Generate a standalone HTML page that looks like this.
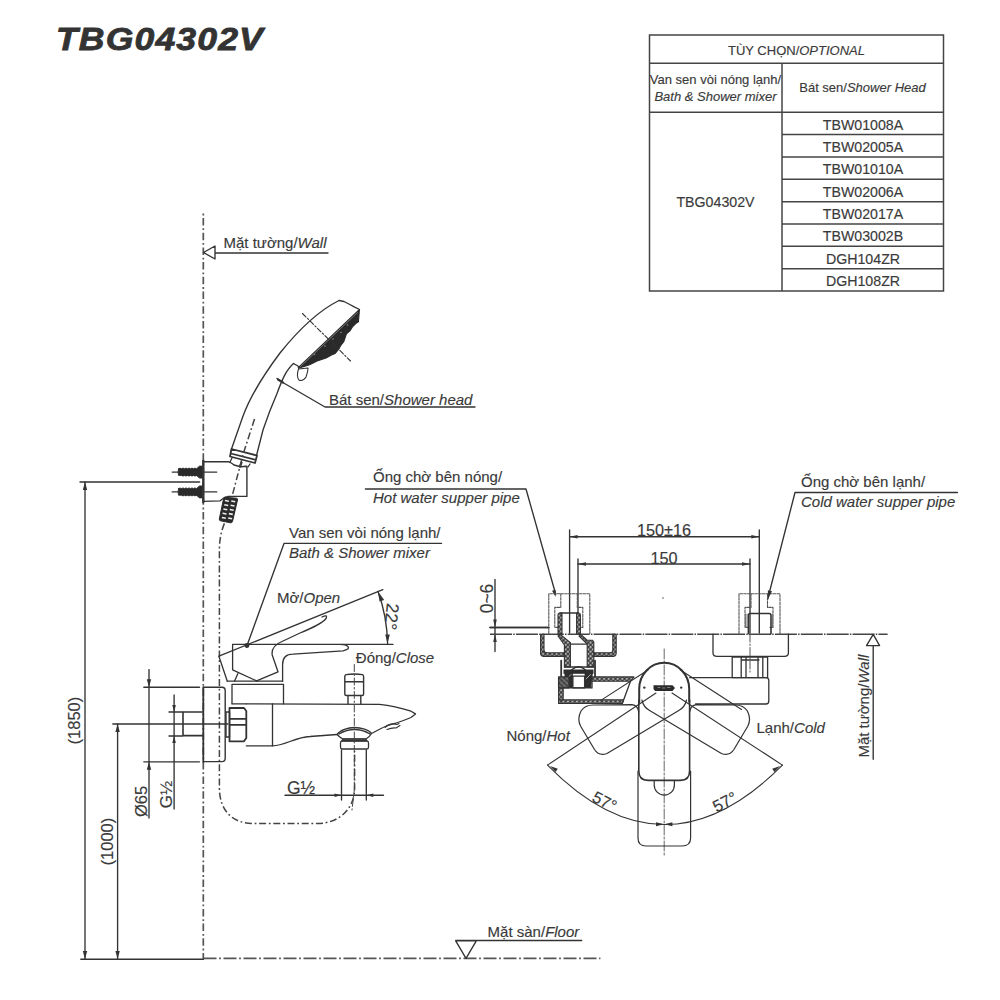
<!DOCTYPE html>
<html><head><meta charset="utf-8"><style>
html,body{margin:0;padding:0;background:#fff;}
svg{display:block;}
text{font-family:"Liberation Sans",sans-serif;fill:#3a3a3a;stroke:#3a3a3a;stroke-width:0.15px;}
.it{font-style:italic;}
</style></head><body>
<svg width="1000" height="1000" viewBox="0 0 1000 1000">
<rect width="1000" height="1000" fill="#fff"/>

<text x="56" y="50" font-size="31" font-weight="bold" font-style="italic" textLength="208" lengthAdjust="spacingAndGlyphs" style="fill:#333;stroke:#333;stroke-width:0.8;letter-spacing:1px">TBG04302V</text>
<g stroke="#444" stroke-width="1.5" fill="none">
<rect x="649.5" y="35" width="294" height="256"/>
<line x1="649.5" y1="63.3" x2="943.5" y2="63.3"/>
<line x1="649.5" y1="112.3" x2="943.5" y2="112.3"/>
<line x1="782" y1="63.3" x2="782" y2="291"/>
<line x1="782" y1="134.6" x2="943.5" y2="134.6"/>
<line x1="782" y1="157.0" x2="943.5" y2="157.0"/>
<line x1="782" y1="179.3" x2="943.5" y2="179.3"/>
<line x1="782" y1="201.7" x2="943.5" y2="201.7"/>
<line x1="782" y1="224.0" x2="943.5" y2="224.0"/>
<line x1="782" y1="246.3" x2="943.5" y2="246.3"/>
<line x1="782" y1="268.7" x2="943.5" y2="268.7"/>
</g>
<text x="796.5" y="54.6" font-size="13" text-anchor="middle">TÙY CHỌN/<tspan class="it">OPTIONAL</tspan></text>
<text x="715.5" y="84.3" font-size="13" text-anchor="middle">Van sen vòi nóng lạnh/</text>
<text x="715.5" y="100.8" font-size="13" text-anchor="middle" class="it">Bath &amp; Shower mixer</text>
<text x="862.5" y="92" font-size="13" text-anchor="middle">Bát sen/<tspan class="it">Shower Head</tspan></text>
<text x="863" y="129.5" font-size="14.2" text-anchor="middle">TBW01008A</text>
<text x="863" y="151.8" font-size="14.2" text-anchor="middle">TBW02005A</text>
<text x="863" y="174.2" font-size="14.2" text-anchor="middle">TBW01010A</text>
<text x="863" y="196.5" font-size="14.2" text-anchor="middle">TBW02006A</text>
<text x="863" y="218.9" font-size="14.2" text-anchor="middle">TBW02017A</text>
<text x="863" y="241.2" font-size="14.2" text-anchor="middle">TBW03002B</text>
<text x="863" y="263.5" font-size="14.2" text-anchor="middle">DGH104ZR</text>
<text x="863" y="285.9" font-size="14.2" text-anchor="middle">DGH108ZR</text>
<text x="715.5" y="206.5" font-size="14.2" text-anchor="middle">TBG04302V</text>
<g stroke="#333" stroke-width="1.35" fill="none" stroke-linejoin="round" stroke-linecap="round">
<line x1="203.3" y1="211" x2="203.3" y2="959" stroke-dasharray="7.5 2.8 1.8 2.6" stroke-linecap="butt" stroke-dashoffset="-7" stroke="#555" stroke-width="1.7"/>
<path d="M203.5,252.5 L215,246 L215,259 Z M215,253 L328,253"/>
<path d="M339,300.5 C318,311 296,333 280,353 C262,377 248,402 242.5,417.5 L231.5,449"/>
<path d="M339,300.5 L344,301.5 Q349,304 353.7,306.7 L359.5,309.5"/>
<path d="M293.5,363.5 C286,370 282,380 277,393.5 C272,405 267,418 263,430 L256.5,455.5"/>
<path d="M293.5,363.5 L298,366 L299,369"/>
<path fill="#2a2a2a" stroke="#2a2a2a" stroke-width="1.1" d="M359.5,309.5 L298.5,367.3 L300.0,367.8 L309.6,364.7 L317.1,360.9 L326.1,357.9 L331.4,354.9 L335.2,353.4 L338.9,348.9 L340.4,345.9 L343.9,341.4 L346.4,333.9 L349.9,330.9 L352.4,326.9 L355.9,323.4 L358.4,321.9 L359.3,311.3 Z"/>
<path stroke="#999" stroke-width="0.7" d="M357.5,312.5 L300.5,366.5"/>
<circle cx="347.5" cy="325" r="0.8" fill="#888" stroke="none"/>
<circle cx="341" cy="332.5" r="0.8" fill="#888" stroke="none"/>
<circle cx="333" cy="339" r="0.8" fill="#888" stroke="none"/>
<circle cx="325" cy="346" r="0.8" fill="#888" stroke="none"/>
<circle cx="314.5" cy="354.5" r="0.8" fill="#888" stroke="none"/>
<path fill="#fff" stroke-width="1.1" d="M298.5,369 C297,373 297,378 299,380 C301,381 304,380 306,377 C307,374 308,371 308,368 Z"/>
<line x1="302.5" y1="313.5" x2="350.5" y2="361" stroke-dasharray="5 2 1.5 2" stroke-width="1.1"/>
<path d="M277,378.5 L282,382 L325,407 L475,407"/>
<path stroke-width="2.2" d="M278,379.5 L283,382.5"/>
<path stroke-width="1.8" d="M231.5,449 L257,455.5 L255,463 L230,456.5 Z M230.8,453.5 L256,460"/>
<path stroke-width="1.4" d="M203.5,461.8 L228.9,461.8 Q232,463 234,465 L240.6,466.7 L246.9,466.3 L246.9,496.4 L228,496.4 Q224,497 219.9,500.9 L203.5,501.4"/>
<path stroke-width="1.3" d="M232,458 L230,462 M250,464 L248,467"/>
<path stroke-width="2.4" d="M203.3,461 L203.3,502"/>
<path stroke-width="2.2" d="M240,466.7 L241.5,462.5"/>
<path d="M204.6,472.1 L216.75,472.1 M204.6,491.9 L216.75,491.9"/>
<path fill="#2a2a2a" stroke="#2a2a2a" stroke-width="0.8" d="M178.5,468.8 Q180.0,467.5 181.5,468.70000000000005 Q183.0,467.5 184.5,468.70000000000005 Q186.0,467.5 187.5,468.70000000000005 Q189.0,467.5 190.5,468.70000000000005 Q192.0,467.5 193.5,468.70000000000005 Q195.0,467.5 196.5,468.70000000000005 L196.5,468.70000000000005 L199.5,466.1 L202,466.1 L202,478.1 L199.5,478.1 L196.5,475.5 Q198.0,476.70000000000005 196.5,475.5 Q195.0,476.70000000000005 193.5,475.5 Q192.0,476.70000000000005 190.5,475.5 Q189.0,476.70000000000005 187.5,475.5 Q186.0,476.70000000000005 184.5,475.5 Q183.0,476.70000000000005 181.5,475.5 L178.5,475.40000000000003 Q177.5,472.1 178.5,468.8 Z"/>
<line x1="172.2" y1="472.1" x2="178.5" y2="472.1"/>
<path fill="#2a2a2a" stroke="#2a2a2a" stroke-width="0.8" d="M178.5,488.59999999999997 Q180.0,487.29999999999995 181.5,488.5 Q183.0,487.29999999999995 184.5,488.5 Q186.0,487.29999999999995 187.5,488.5 Q189.0,487.29999999999995 190.5,488.5 Q192.0,487.29999999999995 193.5,488.5 Q195.0,487.29999999999995 196.5,488.5 L196.5,488.5 L199.5,485.9 L202,485.9 L202,497.9 L199.5,497.9 L196.5,495.29999999999995 Q198.0,496.5 196.5,495.29999999999995 Q195.0,496.5 193.5,495.29999999999995 Q192.0,496.5 190.5,495.29999999999995 Q189.0,496.5 187.5,495.29999999999995 Q186.0,496.5 184.5,495.29999999999995 Q183.0,496.5 181.5,495.29999999999995 L178.5,495.2 Q177.5,491.9 178.5,488.59999999999997 Z"/>
<line x1="172.2" y1="491.9" x2="178.5" y2="491.9"/>
<line x1="80" y1="482" x2="199.6" y2="482"/>
<path fill="#2a2a2a" stroke="#2a2a2a" stroke-width="1" d="M225,497.3 L236.5,498.2 Q238,498.5 237.5,500 L232.5,521.5 Q232,523 230.5,522.8 L220.5,520.8 Q219,520.5 219.3,519 L223.5,499 Q224,497.2 225,497.3 Z"/>
<rect x="224.9" y="500.1" width="4" height="1.6" fill="#eee" stroke="none" transform="rotate(11 226.9 501.1)"/>
<rect x="231.2" y="500.5" width="4" height="1.6" fill="#eee" stroke="none" transform="rotate(11 233.2 501.5)"/>
<rect x="224.2" y="504.4" width="4" height="1.6" fill="#eee" stroke="none" transform="rotate(11 226.2 505.4)"/>
<rect x="230.5" y="504.8" width="4" height="1.6" fill="#eee" stroke="none" transform="rotate(11 232.5 505.8)"/>
<rect x="223.3" y="508.6" width="4" height="1.6" fill="#eee" stroke="none" transform="rotate(11 225.3 509.6)"/>
<rect x="229.7" y="509.0" width="4" height="1.6" fill="#eee" stroke="none" transform="rotate(11 231.7 510.0)"/>
<rect x="222.5" y="512.8" width="4" height="1.6" fill="#eee" stroke="none" transform="rotate(11 224.5 513.8)"/>
<rect x="228.8" y="513.2" width="4" height="1.6" fill="#eee" stroke="none" transform="rotate(11 230.8 514.2)"/>
<rect x="221.8" y="517.1" width="4" height="1.6" fill="#eee" stroke="none" transform="rotate(11 223.8 518.1)"/>
<rect x="228.1" y="517.5" width="4" height="1.6" fill="#eee" stroke="none" transform="rotate(11 230.1 518.5)"/>
<path stroke="#444" stroke-width="1.5" stroke-dasharray="7 2.7 1.8 2.7" stroke-linecap="butt" d="M254.5,419 L243.5,453 L240.6,464 L232.5,494.6"/>
<path stroke="#444" stroke-width="1.5" stroke-dasharray="7 2.7 1.8 2.7" stroke-linecap="butt" d="M224.4,523.4 C221,532 219.4,540 219.4,550 L219.4,788 C219.4,810 232,823.5 253,823.5 L317,823.5 C340,823.5 354.6,808 354.6,788 L354.6,751"/>
<line x1="85" y1="482" x2="85" y2="959"/>
<path fill="#333" stroke="none" d="M85,482 L82.8,490 L87.2,490 Z"/>
<path fill="#333" stroke="none" d="M85,959 L82.8,951 L87.2,951 Z"/>
<line x1="117.6" y1="724" x2="117.6" y2="959"/>
<path fill="#333" stroke="none" d="M117.6,724 L115.39999999999999,732 L119.8,732 Z"/>
<path fill="#333" stroke="none" d="M117.6,959 L115.39999999999999,951 L119.8,951 Z"/>
<line x1="112.8" y1="724" x2="228" y2="724"/>
<line x1="149" y1="669.6" x2="149" y2="818"/>
<path fill="#333" stroke="none" d="M149,687.2 L146.8,679.2 L151.2,679.2 Z"/>
<path fill="#333" stroke="none" d="M149,761.8 L146.8,769.8 L151.2,769.8 Z"/>
<line x1="143.8" y1="687.2" x2="199.5" y2="687.2"/>
<line x1="143.8" y1="761.8" x2="199.5" y2="761.8"/>
<line x1="174.1" y1="695" x2="174.1" y2="809"/>
<path fill="#333" stroke="none" d="M174.1,712 L172.29999999999998,705 L175.9,705 Z"/>
<path fill="#333" stroke="none" d="M174.1,736 L172.29999999999998,743 L175.9,743 Z"/>
<line x1="169" y1="712" x2="182.5" y2="712"/>
<line x1="169" y1="736" x2="182.5" y2="736"/>
<line x1="80.8" y1="959.2" x2="203.5" y2="959.2"/>
<line x1="203.5" y1="958.4" x2="600.4" y2="958.4" stroke-dasharray="13 2.6 1.8 2.6" stroke-linecap="butt" stroke="#555" stroke-width="1.6"/>
<path d="M455.7,940.8 L476.3,940.8 L466,958.3 Z M455.7,940.5 L581.7,940.5"/>
<path stroke-width="1.4" d="M203.5,687.2 L222,687.2 Q225.2,687.2 225.2,690.5 L225.2,758.3 Q225.2,761.6 222,761.6 L203.5,761.6"/>
<path stroke-width="1.8" stroke-linecap="butt" d="M203.3,686.5 L203.3,762.5"/>
<path stroke-width="1.6" d="M202.5,712 L183,712 L183,735.6 L202.5,735.6"/>
<path stroke-width="1.8" d="M229.5,708 L244,708 L246.3,711 L246.3,738 L244,741.3 L229.5,741.3 Z M229.5,718.8 L246.3,718.8 M229.5,724.8 L246.3,724.8"/>
<path d="M226,712 L229.5,712 L229.5,737 L226,737 Z"/>
<path stroke-width="1.3" d="M246.3,703.8 L379.5,704.3 C392,705.5 403,708.5 411,711.2 L415.5,713.9 L411,717.5 C405,720 400,722 393,723.8 C388,725 384,726.5 380,729 L372.5,733"/>
<path stroke-width="1.3" d="M232,703.8 L246.3,703.8 M246.3,745.8 L272.5,745.8 C285,745.8 295,737 310,736.5 L337,734.5"/>
<path stroke-width="1.3" d="M272.5,703.8 L272.5,745.8"/>
<path stroke-width="1.1" d="M385,727.5 Q390,722.5 397,724.5 L399,723.5 M387,729.5 Q392,727.5 396,728 L400,725.5"/>
<path stroke-width="1.3" d="M337,734.5 C340,730 348,727.5 354.5,727.5 C361,727.5 369,730 371.5,733.5 C370,736 368,738 366,739 L343,739 C341,738 339,736.5 337,734.5 Z"/>
<path stroke-width="1.3" d="M339,734 C344,731 350,729.5 354.5,729.5 C359,729.5 365,731 370,734"/>
<path fill="#555" stroke-width="1" d="M343,739 L366,739 L367,741 L342,741 Z"/>
<path stroke-width="1.3" d="M342,741 L367,741 Q368.5,741 368.5,743 L368.5,747 Q368.5,749 367,749 L342,749 Q340.5,749 340.5,747 L340.5,743 Q340.5,741 342,741 Z"/>
<path d="M341.5,750 L341.5,800 M366.3,750 L366.3,800"/>
<line x1="285" y1="795.2" x2="383.5" y2="795.2"/>
<path fill="#333" stroke="none" d="M341.5,795.2 L334.5,793.4000000000001 L334.5,797.0 Z"/>
<path fill="#333" stroke="none" d="M366.3,795.2 L373.3,793.4000000000001 L373.3,797.0 Z"/>
<path stroke-width="1.4" d="M346,674.6 Q354.3,673.4 362.5,674.6 Q363.6,675 363.6,676.5 L363.6,694 Q363.6,695.5 362,695.5 L346.4,695.5 Q344.8,695.5 344.8,694 L344.8,676.5 Q344.8,675 346,674.6 Z M344.8,681.8 L363.6,681.8 M348,695.5 L348,703.8 M360.8,695.5 L360.8,703.8"/>
<path stroke="#444" stroke-width="1" stroke-dasharray="7 2.5 1.5 2.5" d="M354.3,664.5 L354.3,790 L352,810"/>
<path stroke-width="1.3" d="M227.3,681.2 L282.6,681.2 M232,684.3 L283.5,684.3 L283.5,703.8 M232,684.3 L232,703.8"/>
<path stroke-width="1.3" d="M232.6,644.4 L393,644.4 M232.6,644.4 L232.6,669.8 L256.6,680.9 M282.6,681.2 L282.6,664.6 Q282.6,654.2 293,654.2 L343,650.8 Q350,649.5 348,646.6 Q346.5,644.6 340,644.4"/>
<path stroke-width="1.3" d="M218.9,656.2 L382.8,589.6 M218.9,656.2 L227.3,681.2 M322,617 Q328,614 326,618.5 Q322,624 300,633 L282,641.5 Q271,646 272.2,655 L278,671.8 L256.6,680.9 M237.8,673.7 L234.5,681.2"/>
<path d="M441.5,543.4 L284,543.4 L246.5,647"/>
<circle cx="247" cy="645.5" r="1.8" fill="#333"/>
<path d="M378,591.4 Q387,616 387.6,643.6"/>
<path fill="#333" stroke="none" d="M378,591.4 L384.2,600 L379.5,601.5 Z M387.6,643.6 L385.2,634.5 L389.8,634.5 Z"/>
<path d="M365.4,489 L526,489 L555.7,594.2"/>
<path fill="#333" stroke="none" transform="rotate(-16 555.7 597)" d="M555.7,597 L553.9000000000001,590 L557.5,590 Z"/>
<path d="M569.6,530 L569.6,633 M759.3,530 L759.3,633 M578,558.8 L578,633 M750,558.8 L750,633"/>
<path d="M569.6,536.7 L759.3,536.7 M578,564 L750,564"/>
<path fill="#333" stroke="none" d="M569.6,536.7 L577.6,534.9000000000001 L577.6,538.5 Z"/>
<path fill="#333" stroke="none" d="M759.3,536.7 L751.3,534.9000000000001 L751.3,538.5 Z"/>
<path fill="#333" stroke="none" d="M578,564 L586,562.2 L586,565.8 Z"/>
<path fill="#333" stroke="none" d="M750,564 L742,562.2 L742,565.8 Z"/>
<circle cx="663" cy="598" r="0.8" fill="#555" stroke="none"/>
<path d="M495,579.5 L495,651.5 M490,627.5 L549,627.5"/>
<path fill="#333" stroke="none" d="M495,627.5 L493.2,619.5 L496.8,619.5 Z"/>
<path fill="#333" stroke="none" d="M495,634 L493.2,642 L496.8,642 Z"/>
<line x1="490" y1="634.2" x2="887.6" y2="634.2" stroke-dasharray="22 1.2 1.5 1.2" stroke-linecap="butt" stroke="#444" stroke-width="1.6"/>
<path d="M957.4,492.5 L795,492.5 L767.7,599"/>
<path stroke="#555" stroke-width="1.1" stroke-dasharray="2.5 1.2" d="M548.8,633.4 L548.8,593.8 L589.8,593.8 L589.8,633.4 M560.8,593.8 L560.8,607.4 L554.8,607.4 L554.8,627.4 L558.3,627.4 M577.3,593.8 L577.3,607.4 L582.8,607.4 L582.8,627.4 L579.8,627.4"/>
<path stroke="#555" stroke-width="1.1" stroke-dasharray="2.5 1.2" d="M739.0,633.4 L739.0,593.8 L780.0,593.8 L780.0,633.4 M751.0,593.8 L751.0,607.4 L745.0,607.4 L745.0,627.4 L748.5,627.4 M767.5,593.8 L767.5,607.4 L773.0,607.4 L773.0,627.4 L770.0,627.4"/>
<line x1="490" y1="627.5" x2="548.6" y2="627.5"/>
<path stroke-width="1.6" d="M748.4,633.8 L748.4,615.5 Q748.4,613.5 750.4,613.5 L769,613.5 Q771,613.5 771,615.5 L771,633.8"/>
<path stroke="#777" stroke-width="1" d="M745.5,614 L745.5,627 M747,614 L747,627 M772.5,614 L772.5,627"/>
<path fill="#333" stroke="none" transform="rotate(14 767.7 599.8)" d="M767.7,599.8 L765.6,590.5 L769.8,590.5 Z"/>
<path d="M873.2,634.4 L866.5,645.6 L879.6,645.6 Z M873.2,645.6 L873.2,759.2"/>
<path stroke-width="1.3" d="M713,634.2 L713,653 Q713,656.4 717,656.4 L784.5,656.4 Q788.4,656.4 788.4,653 L788.4,634.2"/>
<path stroke-width="1.3" d="M732.2,657 L767.6,657 L767.6,677.6 L732.2,677.6 Z M741.2,657 L741.2,677.6 M746,657 L746,677.6 M758,657 L758,677.6 M762.8,657 L762.8,677.6 M741,660 L759,660"/>
<path stroke="#555" stroke-width="1" stroke-dasharray="8 2 1.5 2" d="M750,634 L750,672"/>
<defs><pattern id="hat" patternUnits="userSpaceOnUse" width="3.2" height="3.2" patternTransform="rotate(45)"><rect width="3.2" height="3.2" fill="#fff"/><line x1="0" y1="1.6" x2="3.2" y2="1.6" stroke="#666" stroke-width="0.9"/></pattern><pattern id="hat2" patternUnits="userSpaceOnUse" width="3.5" height="3.5" patternTransform="rotate(-45)"><rect width="3.5" height="3.5" fill="#fff"/><line x1="0" y1="1.75" x2="3.5" y2="1.75" stroke="#444" stroke-width="1.2"/></pattern></defs>
<path fill="url(#hat)" stroke-width="1.1" d="M540.6,634.2 L540.6,653 Q540.6,656.4 544,656.4 L564,656.4 L564,652.8 L547,652.8 Q544,652.8 544,650 L544,634.2 Z"/>
<path fill="url(#hat)" stroke-width="1.1" d="M616.2,634.2 L616.2,653 Q616.2,656.4 612.8,656.4 L594,656.4 L594,652.8 L610,652.8 Q612.8,652.8 612.8,650 L612.8,634.2 Z"/>
<path fill="url(#hat)" stroke-width="1.1" d="M560,634.2 L570.4,642.6 L570.4,667 L564.4,667 L564.4,645 L558,636 Z"/>
<path fill="url(#hat)" stroke-width="1.1" d="M580.4,634.2 L587.2,640.2 L592.4,640.2 L593.8,642 L593.8,667 L587.2,667 L587.2,644 L579,636 Z"/>
<path stroke-width="1.3" d="M570.4,644.2 L587.2,644.2"/>
<path fill="url(#hat)" stroke-width="1.1" d="M558,633.8 L558,615 Q558,613 560,613 L562,613 L562,633.8 Z"/>
<path fill="url(#hat)" stroke-width="1.1" d="M580.4,633.8 L580.4,615 Q580.4,613 578.4,613 L576.6,613 L576.6,633.8 Z"/>
<path stroke-width="1.4" d="M560,613 L578.4,613"/>
<path stroke-width="1.8" d="M561.2,660.6 L561.2,677 M595,660.6 L595,677"/>
<path stroke-width="1.3" d="M564.4,667 L593.8,667"/>
<path stroke-width="1.5" d="M571.5,670 Q578.5,663.5 585.5,670"/>
<path fill="#2e2e2e" stroke="none" d="M563.5,669.5 L593.5,669.5 L593.5,673.8 L563.5,673.8 Z"/>
<path fill="#2e2e2e" stroke="none" d="M564.5,672 L572.9,672 L572.9,688 L566.5,688 L564.5,680 Z M584.6,672 L593,672 L592,680 L591,688 L584.6,688 Z"/>
<path stroke="#aaa" stroke-width="1" d="M566.5,679 L571,674.5 M586,679 L590.5,674.5"/>
<path stroke-width="1.3" d="M572.9,676.2 L584.6,676.2 L584.6,687.9 L572.9,687.9 Z"/>
<path fill="url(#hat)" stroke-width="1.1" d="M592,676.9 L634,676.9 L630.5,681.2 L592,681.2 Z"/>
<path fill="url(#hat)" stroke-width="1.1" d="M558.6,699.8 L623.5,699.8 L622.3,703.5 L558.6,703.5 Z"/>
<path fill="url(#hat)" stroke-width="1.1" d="M558.6,687.9 L563.2,687.9 L563.2,699.8 L558.6,699.8 Z"/>
<path fill="url(#hat2)" stroke-width="1.3" d="M558.6,676.9 L569,676.9 L569,687.9 L558.6,687.9 Z"/>
<path stroke-width="1.3" d="M630.5,681.2 L622.3,703.5 M563.2,687.9 L592,687.9 M592,681.2 L592,688"/>
<path stroke="#555" stroke-width="0.9" stroke-dasharray="10 2 2 2" d="M664.2,649 L664.2,857"/>
<path stroke-width="2" d="M639.2,702 L639.2,689 A25,26.2 0 0 1 689.2,689 L689.2,702"/>
<path stroke-width="1.6" d="M638.8,700 L638.8,771 Q638.8,780.4 648,780.4 L680.4,780.4 Q689.6,780.4 689.6,771 L689.6,700"/>
<path stroke-width="1.2" d="M638,771 L638,838 Q638,846 646,846 L682,846 Q690.6,846 690.6,838 L690.6,771"/>
<path stroke-width="1.2" d="M654.2,781 L654.2,785 A10.1,10.1 0 0 0 674.4,785 L674.4,781"/>
<path stroke-width="1.2" d="M686.5,700 Q685,707 678.8,710.5 L607,753.5 Q599,756.5 594.5,749.5 L580.5,726 Q577,719 581,711 Q585,705 593,705 L632,704.6 Q638,705.5 638.8,712"/>
<path stroke-width="1.2" transform="translate(1328.4,0) scale(-1,1)" d="M686.5,700 Q685,707 678.8,710.5 L607,753.5 Q599,756.5 594.5,749.5 L580.5,726 Q577,719 581,711 Q585,705 593,705 L632,704.6 Q638,705.5 638.8,712"/>
<path stroke-width="1.1" d="M600.8,700.4 L648,670 M680.4,670 L741.5,709.5"/>
<path stroke-width="1.1" d="M547.5,765.1 L656,693 M782.4,765.1 L672,693"/>
<path stroke-width="1.1" d="M547.5,765.1 Q664.2,884 782.4,765.1"/>
<path fill="#333" stroke="none" d="M664,824.3 L656,822.3 L656,826.3 Z"/>
<path fill="#333" stroke="none" d="M664.4,824.3 L672.4,822.3 L672.4,826.3 Z"/>
<path fill="#333" stroke="none" transform="rotate(-57 550 766)" d="M550,766 L548,774 L552,774 Z"/>
<path fill="#333" stroke="none" transform="rotate(57 780 766)" d="M780,766 L778,774 L782,774 Z"/>
<path fill="#2a2a2a" stroke="none" d="M653.5,685.2 L672.5,685.2 L675,688 L672.5,691 L655,691 L653.5,689 Z"/>
<path stroke="#bbb" stroke-width="0.6" d="M658,687.5 L660,687.5 M662.5,688 L665,688 M667.5,687.5 L670,687.5"/>
<circle cx="644.3" cy="687.6" r="1.2" fill="#333" stroke="none"/><circle cx="681.2" cy="687.6" r="1.2" fill="#333" stroke="none"/>
<path stroke-width="1.3" d="M689.6,677.6 L766,677.6 Q768.8,677.6 768.8,680.5 L768.8,701 Q768.8,704 766,704 L695.6,704"/>
</g>
<text x="223.5" y="248" font-size="15">Mặt tường/<tspan class="it">Wall</tspan></text>
<text x="487.6" y="937.2" font-size="15">Mặt sàn/<tspan class="it">Floor</tspan></text>
<text x="329" y="405" font-size="15">Bát sen/<tspan class="it">Shower head</tspan></text>
<text x="373" y="482" font-size="15">Ống chờ bên nóng/</text>
<text x="373" y="502.9" font-size="15" class="it">Hot water supper pipe</text>
<text x="801" y="487.3" font-size="15">Ống chờ bên lạnh/</text>
<text x="801" y="507" font-size="15" class="it">Cold water supper pipe</text>
<text x="289" y="538" font-size="15">Van sen vòi nóng lạnh/</text>
<text x="289" y="558" font-size="15" class="it">Bath &amp; Shower mixer</text>
<text x="277" y="603" font-size="15">Mở/<tspan class="it">Open</tspan></text>
<text x="355.8" y="662.8" font-size="15">Đóng/<tspan class="it">Close</tspan></text>
<text x="506.5" y="741.3" font-size="15">Nóng/<tspan class="it">Hot</tspan></text>
<text x="756.5" y="733" font-size="15">Lạnh/<tspan class="it">Cold</tspan></text>
<text x="287" y="793.8" font-size="17.5">G½</text>
<text transform="translate(869.2,757.6) rotate(-90)" font-size="15">Mặt tường/<tspan class="it">Wall</tspan></text>
<text transform="translate(80.3,720.6) rotate(-90)" font-size="16.5" text-anchor="middle">(1850)</text>
<text transform="translate(113.3,841.6) rotate(-90)" font-size="16.5" text-anchor="middle">(1000)</text>
<text transform="translate(147.3,801.5) rotate(-90)" font-size="16.5" text-anchor="middle">Ø65</text>
<text transform="translate(171.8,794.6) rotate(-90)" font-size="17" text-anchor="middle">G½</text>
<text transform="translate(493.4,598.5) rotate(-90)" font-size="17.5" text-anchor="middle">0~6</text>
<text transform="translate(385.6,616) rotate(96)" font-size="17.5" text-anchor="middle">22°</text>
<text x="664" y="536" font-size="16.3" text-anchor="middle">150±16</text>
<text x="664" y="563.6" font-size="16.3" text-anchor="middle">150</text>
<text transform="translate(602,806.5) rotate(27)" font-size="16.5" text-anchor="middle">57°</text>
<text transform="translate(727.5,807) rotate(-28)" font-size="16.5" text-anchor="middle">57°</text>
</svg></body></html>
